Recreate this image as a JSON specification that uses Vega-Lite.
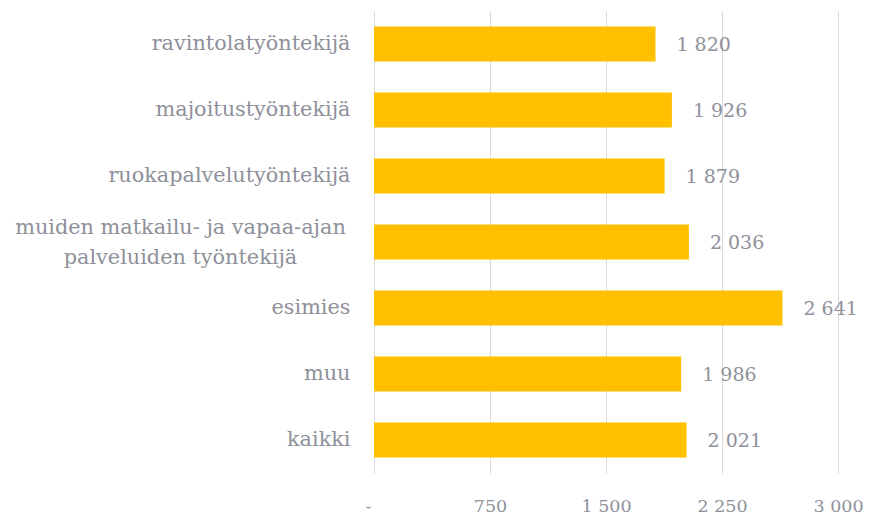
{
  "$schema": "https://vega.github.io/schema/vega-lite/v6.json",
  "width": 464,
  "height": 462,
  "autosize": {"type": "none"},
  "padding": {"left": 374, "top": 11, "right": 33, "bottom": 44},
  "background": "white",
  "config": {
    "view": {"stroke": null},
    "font": "DejaVu Serif",
    "locale": {"number": {"decimal": ",", "thousands": " ", "grouping": [3], "currency": ["", " €"]}}
  },
  "data": {
    "values": [
      {"ryhma": "ravintolatyöntekijä", "arvo": 1820},
      {"ryhma": "majoitustyöntekijä", "arvo": 1926},
      {"ryhma": "ruokapalvelutyöntekijä", "arvo": 1879},
      {"ryhma": "muiden matkailu- ja vapaa-ajan palveluiden työntekijä", "arvo": 2036},
      {"ryhma": "esimies", "arvo": 2641},
      {"ryhma": "muu", "arvo": 1986},
      {"ryhma": "kaikki", "arvo": 2021}
    ]
  },
  "encoding": {
    "y": {
      "field": "ryhma",
      "type": "nominal",
      "sort": null,
      "scale": {"paddingInner": 0.47, "paddingOuter": 0.235},
      "axis": {
        "title": null,
        "domain": false,
        "ticks": false,
        "labelFont": "DejaVu Serif",
        "labelFontSize": 20.8,
        "labelColor": "#8E909A",
        "labelLimit": 400,
        "labelExpr": "datum.value == 'muiden matkailu- ja vapaa-ajan palveluiden työntekijä' ? ['muiden matkailu- ja vapaa-ajan', 'palveluiden työntekijä'] : datum.value",
        "labelLineHeight": 30,
        "labelAlign": {"condition": {"test": "datum.value == 'muiden matkailu- ja vapaa-ajan palveluiden työntekijä'", "value": "center"}, "value": "right"},
        "labelPadding": {"condition": {"test": "datum.value == 'muiden matkailu- ja vapaa-ajan palveluiden työntekijä'", "value": 194}, "value": 24},
        "labelOffset": {"condition": {"test": "datum.value == 'muiden matkailu- ja vapaa-ajan palveluiden työntekijä'", "value": -14}, "value": 0}
      }
    },
    "x": {
      "field": "arvo",
      "type": "quantitative",
      "scale": {"domain": [0, 3000]},
      "axis": {
        "title": null,
        "values": [0, 750, 1500, 2250, 3000],
        "domain": false,
        "ticks": false,
        "grid": true,
        "gridColor": "#D9D9D9",
        "gridWidth": 1,
        "labelPadding": 24,
        "labelBaseline": "top",
        "labelFlush": false,
        "labelFont": "DejaVu Serif",
        "labelFontSize": 17.5,
        "labelColor": "#8E909A",
        "labelOffset": {"condition": {"test": "datum.value == 0", "value": -6}, "value": 0},
        "labelExpr": "datum.value == 0 ? '-' : format(datum.value, ',d')"
      }
    }
  },
  "layer": [
    {"mark": {"type": "bar", "color": "#FFC000"}},
    {
      "mark": {"type": "text", "align": "left", "baseline": "middle", "dx": 21, "dy": 1, "fontSize": 19, "color": "#8E909A", "font": "DejaVu Serif"},
      "encoding": {"text": {"field": "arvo", "type": "quantitative", "format": ",d"}}
    }
  ]
}
